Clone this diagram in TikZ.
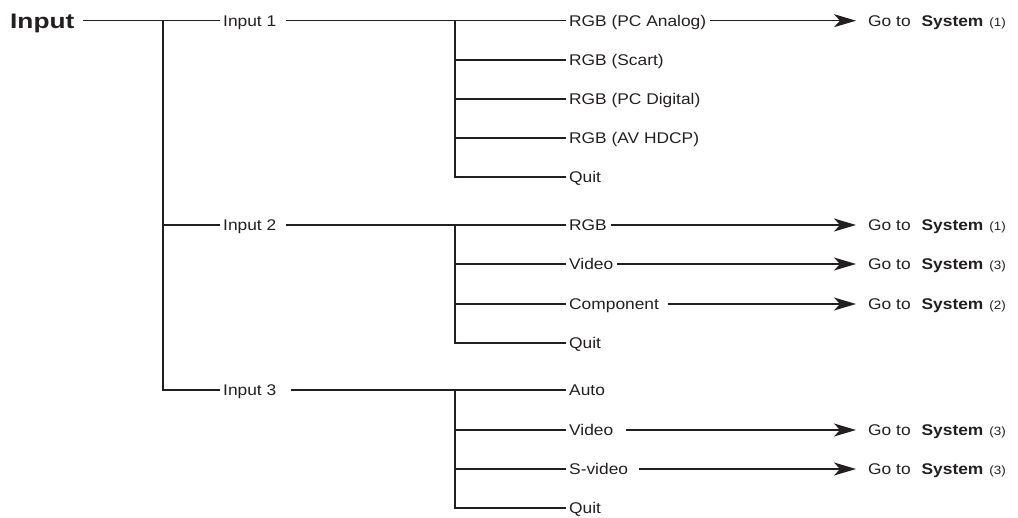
\documentclass[tikz,border=0pt]{standalone}
\usepackage{fontspec}
\setmainfont[FakeStretch=1.12]{Liberation Sans}
\newfontfamily\headfont[FakeStretch=1.25]{Liberation Sans}
\usetikzlibrary{arrows.meta}
\definecolor{ink}{RGB}{35,31,32}
\newcommand{\gosys}[1]{\hspace{12pt}Go to\hspace{11pt}\textbf{System}\hspace{6pt}{\fontsize{12}{13}\selectfont(#1)}}
\tikzset{
  lbl/.style={anchor=west, inner xsep=3pt, inner ysep=0pt, text height=11pt, text depth=0pt,
    font=\fontsize{15.5}{17}\selectfont, text=ink},
  head/.style={anchor=west, inner xsep=2pt, inner ysep=0pt, text height=15pt, text depth=0pt,
    font=\headfont\bfseries\fontsize{21}{23}\selectfont, text=ink},
  gotobox/.style={lbl, inner xsep=0pt},
  ln/.style={draw=ink, line width=1.1pt},
  arr/.style={ln, -{Stealth[length=22pt,width=13pt,inset=6pt]}}
}
\begin{document}
\begin{tikzpicture}[x=1pt, y={(0pt,-1pt)}]
\useasboundingbox (0,0) rectangle (1018,518);
% level 0 and 1
\node[head] (hd) at (8,20.7) {Input};
\node[lbl] (in1) at (220,20.7) {Input 1};
\node[lbl] (in2) at (220,225) {Input 2};
\node[lbl] (in3) at (220,390) {Input 3};
\coordinate (t1) at (163,20.7);
\coordinate (t2) at (455,20.7);
\coordinate (t3) at (455,225);
\coordinate (t4) at (455,390);
% level 2
\node[lbl] (pca) at (566,20.7) {RGB (PC Analog)};
\node[lbl] (scart) at (566,60) {RGB (Scart)};
\node[lbl] (pcd) at (566,99) {RGB (PC Digital)};
\node[lbl] (avh) at (566,138) {RGB (AV HDCP)};
\node[lbl] (q1) at (566,177) {Quit};
\node[lbl] (rgb) at (566,225) {RGB};
\node[lbl] (vid2) at (566,264) {Video};
\node[lbl] (comp) at (566,304) {Component};
\node[lbl] (q2) at (566,343) {Quit};
\node[lbl] (auto) at (566,390) {Auto};
\node[lbl] (vid3) at (566,430) {Video};
\node[lbl] (svid) at (566,469) {S-video};
\node[lbl] (q3) at (566,508) {Quit};
% targets
\node[gotobox] (g1) at (856,20.7) {\gosys{1}};
\node[gotobox] (g2) at (856,225) {\gosys{1}};
\node[gotobox] (g3) at (856,264) {\gosys{3}};
\node[gotobox] (g4) at (856,304) {\gosys{2}};
\node[gotobox] (g5) at (856,430) {\gosys{3}};
\node[gotobox] (g6) at (856,469) {\gosys{3}};
% connectors level 0-1
\draw[ln] ([xshift=6pt]hd.east) -- (in1.west);
\draw[ln] (t1) |- (in2.west);
\draw[ln] (t1) |- (in3.west);
% input 1
\draw[ln] ([xshift=7pt]in1.east) -- (pca.west);
\draw[ln] (t2) |- (scart.west);
\draw[ln] (t2) |- (pcd.west);
\draw[ln] (t2) |- (avh.west);
\draw[ln] (t2) |- (q1.west);
% input 2
\draw[ln] ([xshift=7pt]in2.east) -- (rgb.west);
\draw[ln] (t3) |- (vid2.west);
\draw[ln] (t3) |- (comp.west);
\draw[ln] (t3) |- (q2.west);
% input 3
\draw[ln] ([xshift=12pt]in3.east) -- (auto.west);
\draw[ln] (t4) |- (vid3.west);
\draw[ln] (t4) |- (svid.west);
\draw[ln] (t4) |- (q3.west);
% arrows
\draw[arr] ([xshift=1pt]pca.east) -- (g1.west);
\draw[arr] ([xshift=1pt]rgb.east) -- (g2.west);
\draw[arr] ([xshift=1pt]vid2.east) -- (g3.west);
\draw[arr] ([xshift=6pt]comp.east) -- (g4.west);
\draw[arr] ([xshift=10pt]vid3.east) -- (g5.west);
\draw[arr] ([xshift=8pt]svid.east) -- (g6.west);
\end{tikzpicture}
\end{document}
